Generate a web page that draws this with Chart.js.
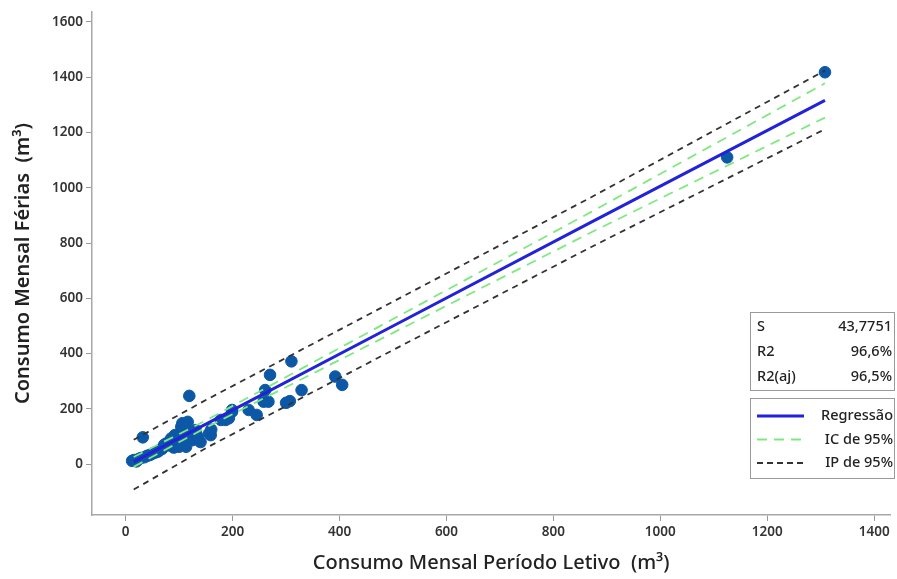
<!DOCTYPE html>
<html>
<head>
<meta charset="utf-8">
<script src="https://cdn.jsdelivr.net/npm/chart.js@4.4.0/dist/chart.umd.min.js"></script>
<style>
  html, body { margin: 0; padding: 0; background: #fff; }
  #wrap { width: 897px; height: 579px; }
</style>
</head>
<body>
<div id="wrap"><canvas id="regChart" width="897" height="579"></canvas></div>
<script>
// observed points (Período Letivo, Férias)
const pointsX = [12, 16, 20, 24, 28, 32, 35, 40, 45, 50, 55, 60, 63, 68, 72, 76, 80, 85, 88, 90,
    92, 95, 100, 102, 104, 106, 108, 110, 113, 116, 119, 119, 122, 125, 128, 131, 135, 140, 156, 159,
    160, 178, 187, 193, 199, 199, 230, 245, 261, 258, 267, 270, 300, 307, 310, 329, 392, 405, 1125, 1308];
const pointsY = [12, 15, 10, 18, 22, 97, 25, 30, 33, 38, 42, 45, 50, 55, 70, 75, 68, 93, 80, 60,
    105, 88, 63, 110, 135, 148, 85, 75, 63, 153, 111, 247, 95, 87, 120, 123, 100, 80, 111, 105,
    125, 160, 160, 166, 190, 196, 196, 178, 268, 226, 226, 323, 222, 228, 372, 268, 317, 287, 1110, 1418];

// fitted line and bands, read along x
const lineX   = [15, 150, 500, 870, 1308];
const regY    = [8, 145, 500, 875, 1316];
const ciUpper = [26, 158, 525, 912, 1378];
const ciLower = [-10, 132, 475, 838, 1254];
const piUpper = [88, 232, 588, 965, 1424];
const piLower = [-92, 58, 413, 785, 1212];

const xTicks = [0, 200, 400, 600, 800, 1000, 1200, 1400];
const yTicks = [0, 200, 400, 600, 800, 1000, 1200, 1400, 1600];

const statLabels = ["S", "R2", "R2(aj)"];
const statValues = ["43,7751", "96,6%", "96,5%"];
const legendLabels = ["Regressão", "IC de 95%", "IP de 95%"];

const blue = "#2222d8";
const green = "#80e880";
const dark = "#333333";
const dotColor = "#0c58a6";
const fontName = "'Noto Sans', 'Open Sans', sans-serif";

function pairs(xs, ys) {
    return xs.map((x, i) => ({ x: x, y: ys[i] }));
}

// draws the two boxes on the right (stats + legend)
const sideBoxes = {
    id: "sideBoxes",
    afterDraw(chart) {
        const ctx = chart.ctx;
        ctx.save();
        ctx.strokeStyle = "#9a9a9a";
        ctx.lineWidth = 1;
        ctx.fillStyle = "#fff";

        // stats box
        ctx.fillRect(750.5, 312.5, 144, 78);
        ctx.strokeRect(750.5, 312.5, 144, 78);
        ctx.font = "500 14.5px " + fontName;
        ctx.fillStyle = "#222";
        ctx.textBaseline = "middle";
        statLabels.forEach((lab, i) => {
            const y = 327 + i * 25;
            ctx.textAlign = "left";
            ctx.fillText(lab, 757, y);
            ctx.textAlign = "right";
            ctx.fillText(statValues[i], 892, y);
        });

        // legend box
        ctx.fillStyle = "#fff";
        ctx.fillRect(750.5, 398.5, 144, 80);
        ctx.strokeRect(750.5, 398.5, 144, 80);
        const styles = [
            { color: blue, dash: [], width: 3 },
            { color: green, dash: [10, 7], width: 1.8 },
            { color: dark, dash: [6, 4], width: 1.8 }
        ];
        legendLabels.forEach((lab, i) => {
            const y = 416 + i * 23.5;
            const s = styles[i];
            ctx.beginPath();
            ctx.setLineDash(s.dash);
            ctx.strokeStyle = s.color;
            ctx.lineWidth = s.width;
            ctx.moveTo(757, y);
            ctx.lineTo(804, y);
            ctx.stroke();
            ctx.setLineDash([]);
            ctx.fillStyle = "#222";
            ctx.textAlign = "right";
            ctx.fillText(lab, 893, y);
        });
        ctx.restore();
    }
};

const ctx = document.getElementById("regChart").getContext("2d");
const chart = new Chart(ctx, {
    type: "scatter",
    data: {
        datasets: [
            {
                label: "Regressão",
                data: pairs(lineX, regY),
                showLine: true,
                borderColor: blue,
                borderWidth: 3,
                pointRadius: 0,
                order: 1
            },
            {
                label: "IC de 95% sup",
                data: pairs(lineX, ciUpper),
                showLine: true,
                borderColor: green,
                borderWidth: 1.8,
                borderDash: [10, 7],
                pointRadius: 0,
                order: 2
            },
            {
                label: "IC de 95% inf",
                data: pairs(lineX, ciLower),
                showLine: true,
                borderColor: green,
                borderWidth: 1.8,
                borderDash: [10, 7],
                pointRadius: 0,
                order: 2
            },
            {
                label: "IP de 95% sup",
                data: pairs(lineX, piUpper),
                showLine: true,
                borderColor: dark,
                borderWidth: 1.8,
                borderDash: [6, 5],
                pointRadius: 0,
                order: 3
            },
            {
                label: "IP de 95% inf",
                data: pairs(lineX, piLower),
                showLine: true,
                borderColor: dark,
                borderWidth: 1.8,
                borderDash: [6, 5],
                pointRadius: 0,
                order: 3
            },
            {
                label: "Observado",
                data: pairs(pointsX, pointsY),
                backgroundColor: dotColor,
                borderColor: dotColor,
                pointRadius: 5.8,
                order: 5
            }
        ]
    },
    options: {
        responsive: false,
        animation: false,
        layout: { padding: { top: 12, right: 0, left: 0, bottom: 0 } },
        scales: {
            x: {
                type: "linear",
                min: -63,
                max: 1430,
                afterBuildTicks: (s) => { s.ticks = xTicks.map(v => ({ value: v })); },
                afterFit: (s) => { s.height = 64; },
                grid: { drawOnChartArea: false, tickLength: 6, color: "#9a9a9a" },
                border: { color: "#a8a8a8", width: 1.5 },
                ticks: {
                    color: "#333",
                    font: { family: fontName, size: 13.5, weight: "600" },
                    padding: 3,
                    callback: (v) => String(v)
                },
                title: {
                    display: true,
                    text: "Consumo Mensal Período Letivo  (m³)",
                    color: "#222",
                    font: { family: fontName, size: 20, weight: "500" },
                    padding: { top: 11 }
                }
            },
            y: {
                type: "linear",
                min: -184,
                max: 1636,
                afterBuildTicks: (s) => { s.ticks = yTicks.map(v => ({ value: v })); },
                afterFit: (s) => { s.width = 92; },
                grid: { drawOnChartArea: false, tickLength: 6, color: "#9a9a9a" },
                border: { color: "#a8a8a8", width: 1.5 },
                ticks: {
                    color: "#333",
                    font: { family: fontName, size: 13.5, weight: "600" },
                    padding: 3,
                    callback: (v) => String(v)
                },
                title: {
                    display: true,
                    text: "Consumo Mensal Férias  (m³)",
                    color: "#222",
                    font: { family: fontName, size: 20, weight: "600" },
                    padding: { top: 11, bottom: 2 }
                }
            }
        },
        plugins: {
            legend: { display: false },
            tooltip: { enabled: false }
        }
    },
    plugins: [sideBoxes]
});
</script>
</body>
</html>
